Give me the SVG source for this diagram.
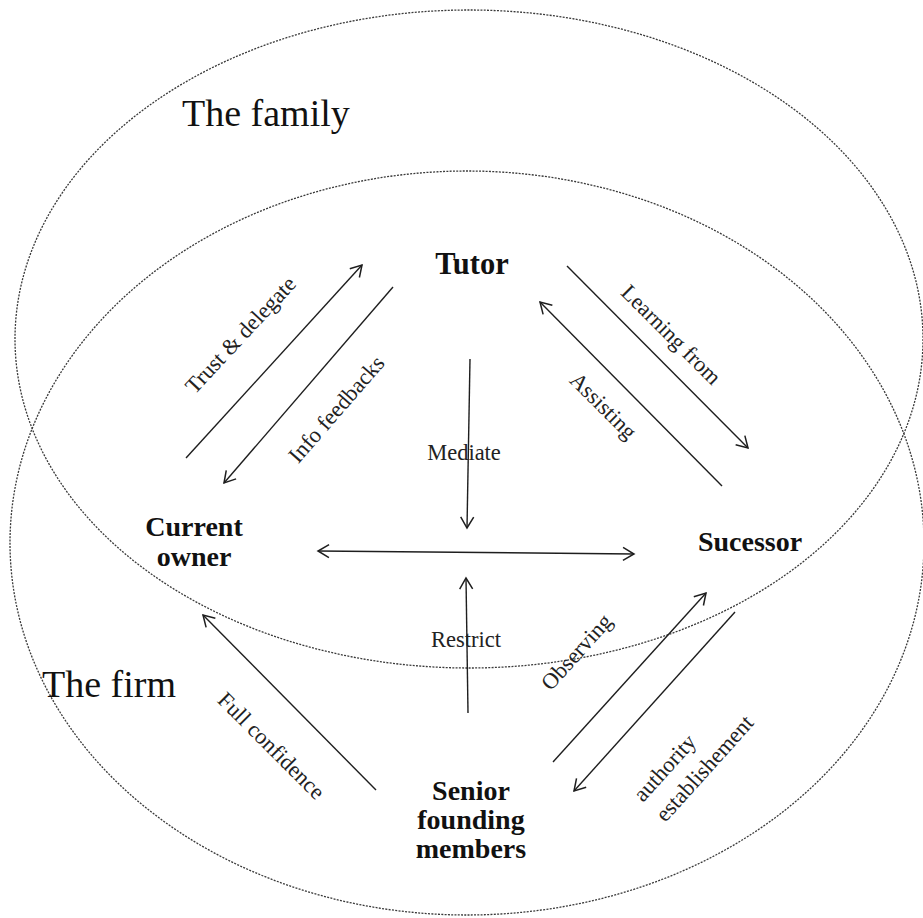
<svg xmlns="http://www.w3.org/2000/svg" width="923" height="918" viewBox="0 0 923 918">
  <defs>
    <style>
      .region { fill: none; stroke: #3a3a3a; stroke-width: 1.3; stroke-dasharray: 2 1.3; }
      .conn { fill: none; stroke: #1e1e1e; stroke-width: 1.4; }
      .title { font-family: "Liberation Serif", "Times New Roman", serif; font-size: 38px; fill: #111; }
      .node { font-family: "Liberation Serif", "Times New Roman", serif; font-size: 28px; font-weight: bold; fill: #111; text-anchor: middle; }
      .lbl { font-family: "Liberation Serif", "Times New Roman", serif; font-size: 22.5px; fill: #222; }
      .mid { text-anchor: middle; }
    </style>
    <marker id="arr" viewBox="-13 -8 15 16" refX="0" refY="0" markerWidth="15" markerHeight="16" markerUnits="userSpaceOnUse" orient="auto-start-reverse">
      <path d="M-11,-6.5 L0,0 L-11,6.5" fill="none" stroke="#1e1e1e" stroke-width="1.5"/>
    </marker>
  </defs>
  <rect width="923" height="918" fill="#ffffff"/>

  <g id="region-family">
    <ellipse class="region" cx="469" cy="339" rx="454" ry="329"/>
    <text class="title" x="182" y="126">The family</text>
  </g>
  <g id="region-firm">
    <ellipse class="region" cx="467" cy="543" rx="457" ry="372"/>
    <text class="title" x="42" y="697">The firm</text>
  </g>

  <g id="node-tutor"><text class="node" x="472" y="274" style="font-size:30.5px">Tutor</text></g>
  <g id="node-owner"><text class="node" x="194" y="536">Current<tspan x="194" y="566">owner</tspan></text></g>
  <g id="node-successor"><text class="node" x="750" y="551">Sucessor</text></g>
  <g id="node-senior"><text class="node" x="471" y="800">Senior<tspan x="471" y="829">founding</tspan><tspan x="471" y="858">members</tspan></text></g>

  <g id="connectors">
    <line class="conn" x1="186" y1="458" x2="362" y2="265" marker-end="url(#arr)"/>
    <line class="conn" x1="393" y1="287" x2="224" y2="483" marker-end="url(#arr)"/>
    <line class="conn" x1="567" y1="266" x2="748" y2="448" marker-end="url(#arr)"/>
    <line class="conn" x1="722" y1="486" x2="540" y2="302" marker-end="url(#arr)"/>
    <line class="conn" x1="470" y1="359" x2="467" y2="528" marker-end="url(#arr)"/>
    <line class="conn" x1="318" y1="551" x2="634" y2="554" marker-start="url(#arr)" marker-end="url(#arr)"/>
    <line class="conn" x1="468" y1="713" x2="466" y2="578" marker-end="url(#arr)"/>
    <line class="conn" x1="376" y1="790" x2="203" y2="615" marker-end="url(#arr)"/>
    <line class="conn" x1="553" y1="762" x2="706" y2="593" marker-end="url(#arr)"/>
    <line class="conn" x1="735" y1="612" x2="574" y2="791" marker-end="url(#arr)"/>

    <text class="lbl mid" transform="translate(246,340) rotate(-47)">Trust &amp; delegate</text>
    <text class="lbl mid" transform="translate(342,414) rotate(-49)">Info feedbacks</text>
    <text class="lbl mid" transform="translate(666,340) rotate(45)">Learning from</text>
    <text class="lbl mid" transform="translate(598,411) rotate(45)">Assisting</text>
    <text class="lbl mid" x="464" y="460">Mediate</text>
    <text class="lbl mid" x="466" y="647">Restrict</text>
    <text class="lbl mid" transform="translate(266,751) rotate(45)">Full confidence</text>
    <text class="lbl mid" transform="translate(582,657) rotate(-48)">Observing</text>
    <text class="lbl" transform="translate(643,803) rotate(-48)">authority<tspan x="0" y="30">establishement</tspan></text>
  </g>
</svg>
